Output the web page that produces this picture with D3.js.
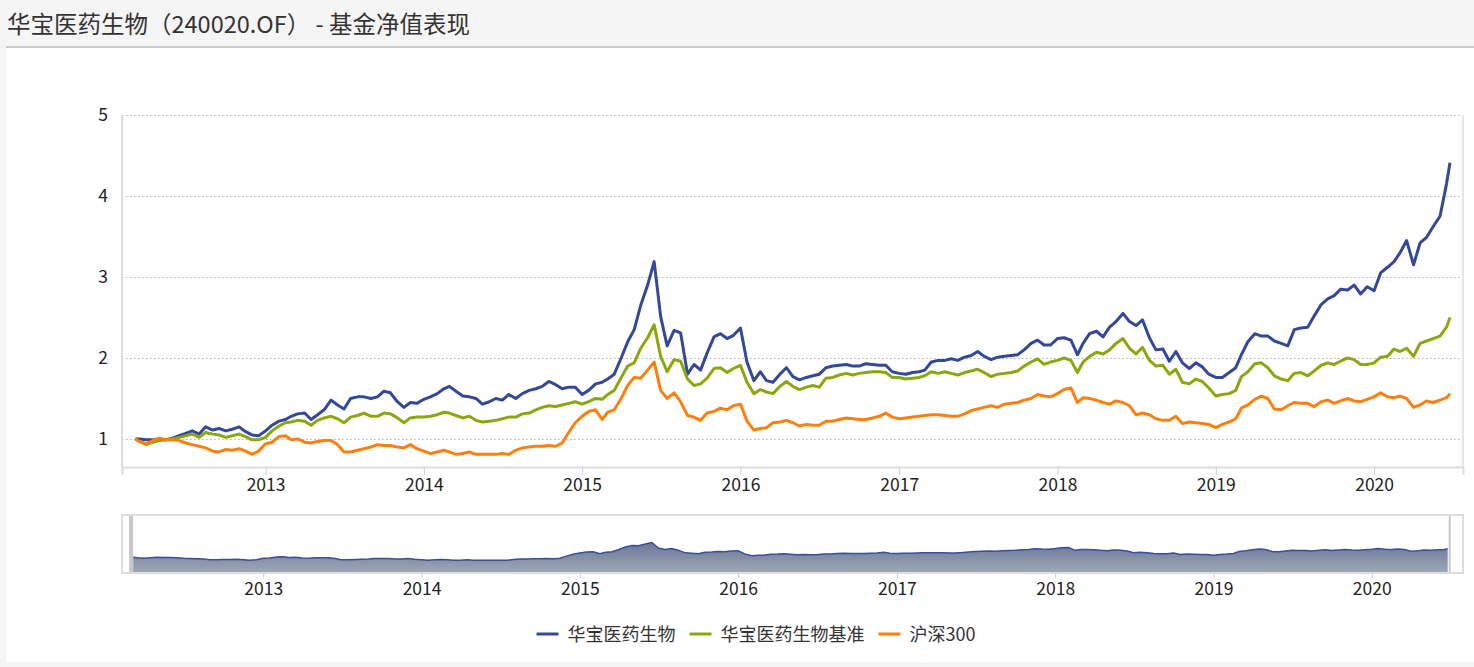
<!DOCTYPE html>
<html>
<head>
<meta charset="utf-8">
<script src="https://cdn.jsdelivr.net/npm/d3@7"></script>
<style>
  body { margin: 0; background: #f5f5f5; }
  svg { display: block; }
  text { font-family: "Noto Sans CJK SC", "Noto Sans", sans-serif; }
</style>
</head>
<body>
<div id="chart"></div>
<script>
/************************************************************
 * 1) Data (semi-monthly samples read off the chart)
 ************************************************************/
const dates = [
  '2012-03-07','2012-03-16','2012-04-01','2012-04-16','2012-05-01','2012-05-16','2012-06-01','2012-06-16','2012-07-01','2012-07-16',
  '2012-08-01','2012-08-16','2012-09-01','2012-09-16','2012-10-01','2012-10-16','2012-11-01','2012-11-16','2012-12-01','2012-12-16',
  '2013-01-01','2013-01-16','2013-02-01','2013-02-16','2013-03-01','2013-03-16','2013-04-01','2013-04-16','2013-05-01','2013-05-16','2013-06-01','2013-06-16',
  '2013-07-01','2013-07-16','2013-08-01','2013-08-16','2013-09-01','2013-09-16','2013-10-01','2013-10-16','2013-11-01','2013-11-16','2013-12-01','2013-12-16',
  '2014-01-01','2014-01-16','2014-02-01','2014-02-16','2014-03-01','2014-03-16','2014-04-01','2014-04-16','2014-05-01','2014-05-16','2014-06-01','2014-06-16',
  '2014-07-01','2014-07-16','2014-08-01','2014-08-16','2014-09-01','2014-09-16','2014-10-01','2014-10-16','2014-11-01','2014-11-16','2014-12-01','2014-12-16',
  '2015-01-01','2015-01-16','2015-02-01','2015-02-16','2015-03-01','2015-03-16','2015-04-01','2015-04-16','2015-05-01','2015-05-16','2015-06-01','2015-06-16',
  '2015-07-01','2015-07-16','2015-08-01','2015-08-16','2015-09-01','2015-09-16','2015-10-01','2015-10-16','2015-11-01','2015-11-16','2015-12-01','2015-12-16',
  '2016-01-01','2016-01-16','2016-02-01','2016-02-16','2016-03-01','2016-03-16','2016-04-01','2016-04-16','2016-05-01','2016-05-16','2016-06-01','2016-06-16',
  '2016-07-01','2016-07-16','2016-08-01','2016-08-16','2016-09-01','2016-09-16','2016-10-01','2016-10-16','2016-11-01','2016-11-16','2016-12-01','2016-12-16',
  '2017-01-01','2017-01-16','2017-02-01','2017-02-16','2017-03-01','2017-03-16','2017-04-01','2017-04-16','2017-05-01','2017-05-16','2017-06-01','2017-06-16',
  '2017-07-01','2017-07-16','2017-08-01','2017-08-16','2017-09-01','2017-09-16','2017-10-01','2017-10-16','2017-11-01','2017-11-16','2017-12-01','2017-12-16',
  '2018-01-01','2018-01-16','2018-02-01','2018-02-16','2018-03-01','2018-03-16','2018-04-01','2018-04-16','2018-05-01','2018-05-16','2018-06-01','2018-06-16',
  '2018-07-01','2018-07-16','2018-08-01','2018-08-16','2018-09-01','2018-09-16','2018-10-01','2018-10-16','2018-11-01','2018-11-16','2018-12-01','2018-12-16',
  '2019-01-01','2019-01-16','2019-02-01','2019-02-16','2019-03-01','2019-03-16','2019-04-01','2019-04-16','2019-05-01','2019-05-16','2019-06-01','2019-06-16',
  '2019-07-01','2019-07-16','2019-08-01','2019-08-16','2019-09-01','2019-09-16','2019-10-01','2019-10-16','2019-11-01','2019-11-16','2019-12-01','2019-12-16',
  '2020-01-01','2020-01-16','2020-02-01','2020-02-16','2020-03-01','2020-03-16','2020-04-01','2020-04-16','2020-05-01','2020-05-16','2020-06-01','2020-06-16',
  '2020-06-24'
];

// 华宝医药生物 (fund NAV)
const fundValues = [
  1.00,1.00,0.99,0.99,0.99,0.99,1.01,1.04,1.07,1.10,1.06,1.15,1.11,1.13,1.10,1.12,1.15,1.09,1.05,1.04,
  1.10,1.17,1.22,1.24,1.28,1.31,1.32,1.24,1.30,1.36,1.48,1.42,1.37,1.50,1.52,1.52,1.50,1.52,1.59,1.57,1.46,1.39,1.45,1.44,
  1.49,1.52,1.56,1.62,1.65,1.59,1.53,1.52,1.50,1.43,1.46,1.50,1.48,1.55,1.50,1.56,1.60,1.62,1.65,1.71,1.67,1.62,1.64,1.64,
  1.55,1.60,1.68,1.70,1.74,1.80,2.00,2.20,2.35,2.65,2.90,3.19,2.51,2.15,2.34,2.31,1.80,1.92,1.85,2.06,2.26,2.30,2.24,2.28,
  2.37,1.95,1.72,1.83,1.72,1.70,1.80,1.88,1.77,1.73,1.76,1.78,1.80,1.88,1.90,1.91,1.92,1.90,1.90,1.93,1.92,1.91,1.91,1.83,
  1.81,1.80,1.82,1.83,1.85,1.95,1.97,1.97,1.99,1.97,2.01,2.03,2.08,2.02,1.98,2.01,2.02,2.03,2.04,2.10,2.18,2.22,2.16,2.16,
  2.24,2.25,2.22,2.04,2.18,2.30,2.33,2.26,2.38,2.45,2.55,2.45,2.40,2.47,2.25,2.10,2.11,1.96,2.08,1.94,1.87,1.94,1.89,1.80,
  1.76,1.76,1.82,1.88,2.04,2.20,2.30,2.27,2.27,2.21,2.18,2.15,2.35,2.37,2.38,2.52,2.66,2.73,2.77,2.85,2.84,2.90,2.79,2.88,
  2.83,3.05,3.12,3.19,3.30,3.45,3.15,3.42,3.49,3.62,3.75,4.15,4.41
];

// 华宝医药生物基准 (benchmark)
const benchValues = [
  1.00,0.97,0.93,0.96,0.98,0.99,1.00,1.02,1.04,1.06,1.02,1.08,1.06,1.05,1.02,1.04,1.06,1.03,0.99,0.99,
  1.02,1.10,1.16,1.20,1.21,1.23,1.22,1.17,1.23,1.26,1.28,1.25,1.20,1.27,1.29,1.32,1.28,1.28,1.32,1.31,1.26,1.20,1.26,1.27,
  1.27,1.28,1.30,1.33,1.32,1.29,1.26,1.28,1.23,1.21,1.22,1.23,1.25,1.27,1.27,1.31,1.32,1.36,1.39,1.41,1.40,1.42,1.44,1.46,
  1.43,1.46,1.50,1.49,1.55,1.60,1.76,1.90,1.94,2.12,2.25,2.41,2.02,1.83,1.98,1.96,1.74,1.66,1.68,1.75,1.87,1.88,1.82,1.87,
  1.91,1.70,1.56,1.61,1.58,1.56,1.65,1.71,1.65,1.61,1.64,1.66,1.64,1.75,1.76,1.79,1.81,1.79,1.81,1.82,1.83,1.83,1.82,1.76,
  1.76,1.74,1.75,1.76,1.78,1.83,1.81,1.83,1.81,1.79,1.82,1.84,1.86,1.82,1.77,1.80,1.81,1.82,1.84,1.90,1.95,1.99,1.92,1.95,
  1.97,2.00,1.97,1.82,1.95,2.02,2.07,2.05,2.10,2.18,2.24,2.12,2.05,2.13,1.97,1.90,1.91,1.80,1.86,1.70,1.68,1.74,1.71,1.63,
  1.53,1.55,1.56,1.60,1.77,1.83,1.93,1.94,1.88,1.78,1.74,1.72,1.81,1.82,1.78,1.84,1.91,1.94,1.92,1.96,2.00,1.98,1.92,1.92,
  1.94,2.01,2.02,2.11,2.08,2.12,2.02,2.18,2.21,2.24,2.27,2.38,2.50
];

// 沪深300 (index, rebased)
const hs300Values = [
  1.00,0.97,0.94,0.98,1.01,0.99,0.99,0.98,0.95,0.93,0.91,0.89,0.85,0.84,0.87,0.86,0.88,0.85,0.81,0.85,
  0.94,0.96,1.03,1.04,0.99,1.00,0.96,0.95,0.97,0.98,0.98,0.93,0.84,0.84,0.86,0.88,0.90,0.93,0.92,0.92,0.90,0.89,0.93,0.88,
  0.85,0.82,0.84,0.86,0.84,0.81,0.82,0.84,0.81,0.81,0.81,0.81,0.82,0.81,0.86,0.89,0.90,0.91,0.91,0.92,0.91,0.95,1.08,1.20,
  1.28,1.34,1.36,1.24,1.33,1.36,1.50,1.66,1.76,1.75,1.85,1.95,1.60,1.50,1.57,1.46,1.29,1.27,1.23,1.32,1.34,1.38,1.36,1.41,
  1.43,1.22,1.11,1.13,1.14,1.20,1.21,1.23,1.20,1.16,1.18,1.17,1.17,1.22,1.22,1.24,1.26,1.25,1.24,1.24,1.26,1.28,1.32,1.27,
  1.25,1.26,1.27,1.28,1.29,1.30,1.30,1.29,1.28,1.28,1.31,1.35,1.37,1.39,1.41,1.39,1.43,1.44,1.45,1.48,1.50,1.55,1.53,1.52,
  1.56,1.61,1.63,1.45,1.51,1.50,1.48,1.45,1.43,1.47,1.45,1.41,1.30,1.32,1.30,1.25,1.23,1.23,1.28,1.19,1.21,1.20,1.19,1.18,
  1.14,1.18,1.21,1.25,1.38,1.42,1.49,1.53,1.50,1.37,1.36,1.41,1.45,1.44,1.44,1.40,1.46,1.48,1.44,1.47,1.50,1.47,1.46,1.49,
  1.52,1.57,1.52,1.51,1.53,1.50,1.39,1.42,1.47,1.45,1.48,1.51,1.56
];

const seriesNames = ['华宝医药生物', '华宝医药生物基准', '沪深300'];
const seriesColors = ['#34489a', '#8aa80e', '#ff7f0e'];
const yTicks = [1, 2, 3, 4, 5];
const titleText = '华宝医药生物（240020.OF） - 基金净值表现';

/************************************************************
 * 2) Setup
 ************************************************************/
const W = 1474, H = 667;
const parse = d3.timeParse('%Y-%m-%d');
const dateObjs = dates.map(parse);

const allSeries = [fundValues, benchValues, hs300Values].map((vals, k) => ({
  name: seriesNames[k],
  color: seriesColors[k],
  points: dateObjs.map((d, i) => ({ date: d, value: vals[i] })).filter(p => p.value != null)
}));

const svg = d3.select('#chart').append('svg')
  .attr('width', W)
  .attr('height', H);

// page background + white panel
svg.append('rect').attr('width', W).attr('height', H).attr('fill', '#f5f5f5');
svg.append('rect').attr('x', 6).attr('y', 47).attr('width', W - 6).attr('height', 615).attr('fill', '#fff');
svg.append('line').attr('x1', 6).attr('x2', W).attr('y1', 47).attr('y2', 47)
  .attr('stroke', '#cacaca').attr('stroke-width', 2);

svg.append('text')
  .attr('x', 7).attr('y', 33)
  .attr('font-size', 23.5)
  .attr('fill', '#333')
  .text(titleText);

/************************************************************
 * 3) Main plot
 ************************************************************/
const plot = { left: 122, right: 1463, top: 115, bottom: 467 };
const xDomain = [parse('2012-02-05'), parse('2020-07-24')];

const x = d3.scaleTime().domain(xDomain).range([plot.left, plot.right]);
const y = d3.scaleLinear().domain([0.654, 5]).range([plot.bottom, plot.top]);

// dotted grid
svg.append('g')
  .attr('transform', `translate(${plot.left},0)`)
  .call(d3.axisLeft(y).tickValues(yTicks).tickSize(-(plot.right - plot.left)).tickFormat(''))
  .call(g => g.select('.domain').remove())
  .call(g => g.selectAll('line')
    .attr('stroke', '#b0b0b0')
    .attr('stroke-dasharray', '1.5,2.5'));

// y labels
svg.append('g')
  .attr('transform', `translate(${plot.left},0)`)
  .call(d3.axisLeft(y).tickValues(yTicks).tickSize(0).tickPadding(14).tickFormat(d3.format('d')))
  .call(g => g.select('.domain').remove())
  .call(g => g.selectAll('text')
    .attr('font-size', 17.5)
    .attr('fill', '#222')
    .style('font-family', '"Noto Sans CJK SC", sans-serif'));

// frame lines
svg.append('line').attr('x1', plot.left).attr('x2', plot.left).attr('y1', plot.top).attr('y2', plot.bottom)
  .attr('stroke', '#dcdcdc').attr('stroke-width', 2);
svg.append('line').attr('x1', plot.right).attr('x2', plot.right).attr('y1', plot.top).attr('y2', plot.bottom)
  .attr('stroke', '#e6e6e6').attr('stroke-width', 2);

// x axis
svg.append('g')
  .attr('transform', `translate(0,${plot.bottom})`)
  .call(d3.axisBottom(x).ticks(d3.timeYear.every(1)).tickFormat(d3.timeFormat('%Y')).tickSize(8).tickPadding(4))
  .call(g => g.select('.domain').attr('stroke', '#dcdcdc').attr('stroke-width', 2))
  .call(g => g.selectAll('.tick line').attr('stroke', '#c0d0e0'))
  .call(g => g.selectAll('text')
    .attr('font-size', 17.5)
    .attr('fill', '#222')
    .style('font-family', '"Noto Sans CJK SC", sans-serif'));

svg.append('clipPath').attr('id', 'plot-clip')
  .append('rect')
  .attr('x', plot.left).attr('y', plot.top - 5)
  .attr('width', plot.right - plot.left).attr('height', plot.bottom - plot.top + 5);

const line = d3.line()
  .x(d => x(d.date))
  .y(d => y(d.value));

svg.append('g')
  .attr('clip-path', 'url(#plot-clip)')
  .selectAll('path')
  .data(allSeries)
  .join('path')
  .attr('d', d => line(d.points))
  .attr('fill', 'none')
  .attr('stroke', d => d.color)
  .attr('stroke-width', 3)
  .attr('stroke-linejoin', 'round');

/************************************************************
 * 4) Navigator
 ************************************************************/
const nav = { left: 122, right: 1463, top: 515, bottom: 573 };
const navX = d3.scaleTime().domain(xDomain).range([nav.left - 2.3, nav.right - 2.3]);
const navY = d3.scaleLinear().domain([0, 3.71]).range([nav.bottom, nav.top]);

const grad = svg.append('defs').append('linearGradient')
  .attr('id', 'nav-grad').attr('x1', 0).attr('x2', 0).attr('y1', 0).attr('y2', 1);
grad.append('stop').attr('offset', '0%').attr('stop-color', '#68789a');
grad.append('stop').attr('offset', '100%').attr('stop-color', '#a0a8b4');

const navPoints = allSeries[2].points;
const navArea = d3.area()
  .x(d => navX(d.date))
  .y0(nav.bottom)
  .y1(d => navY(d.value));
const navLine = d3.line()
  .x(d => navX(d.date))
  .y(d => navY(d.value));

svg.append('path')
  .attr('d', navArea(navPoints))
  .attr('fill', 'url(#nav-grad)');
svg.append('path')
  .attr('d', navLine(navPoints))
  .attr('fill', 'none')
  .attr('stroke', '#3a4e9a')
  .attr('stroke-width', 1.5);

// outline + handles
svg.append('rect')
  .attr('x', nav.left).attr('y', nav.top)
  .attr('width', nav.right - nav.left).attr('height', nav.bottom - nav.top)
  .attr('fill', 'none').attr('stroke', '#dedede').attr('stroke-width', 2);
const navStart = navX(dateObjs[0]);
const navEnd = navX(dateObjs[dateObjs.length - 1]);
svg.append('rect')
  .attr('x', navStart - 4).attr('y', nav.top + 1)
  .attr('width', 4).attr('height', nav.bottom - nav.top - 2)
  .attr('fill', '#c8c8c8');
svg.append('line')
  .attr('x1', navEnd + 2).attr('x2', navEnd + 2)
  .attr('y1', nav.top + 1).attr('y2', nav.bottom - 1)
  .attr('stroke', '#c8c8c8').attr('stroke-width', 2);

svg.append('g')
  .attr('transform', `translate(0,${nav.bottom})`)
  .call(d3.axisBottom(navX).ticks(d3.timeYear.every(1)).tickFormat(d3.timeFormat('%Y')).tickSize(5).tickPadding(5))
  .call(g => g.select('.domain').remove())
  .call(g => g.selectAll('.tick line').attr('stroke', '#c0d0e0'))
  .call(g => g.selectAll('text')
    .attr('font-size', 17.5)
    .attr('fill', '#222')
    .style('font-family', '"Noto Sans CJK SC", sans-serif'));

/************************************************************
 * 5) Legend
 ************************************************************/
const legend = svg.append('g');
let cursor = 0;
allSeries.forEach(s => {
  const item = legend.append('g').attr('transform', `translate(${cursor},0)`);
  item.append('line')
    .attr('x1', 0).attr('x2', 22).attr('y1', 0).attr('y2', 0)
    .attr('stroke', s.color).attr('stroke-width', 3);
  const t = item.append('text')
    .attr('x', 31).attr('y', 6.5)
    .attr('font-size', 18)
    .attr('fill', '#333')
    .text(s.name);
  cursor += 31 + t.node().getComputedTextLength() + 14;
});
const legendWidth = cursor - 14;
legend.attr('transform', `translate(${756 - legendWidth / 2},634)`);
</script>
</body>
</html>
